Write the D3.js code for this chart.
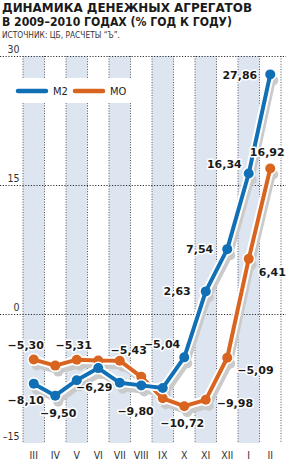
<!DOCTYPE html>
<html>
<head>
<meta charset="utf-8">
<script src="https://cdn.jsdelivr.net/npm/d3@7"></script>
<style>
html,body{margin:0;padding:0;background:#fff;}
svg{display:block;}
</style>
</head>
<body>
<svg id="chart" width="286" height="463"></svg>
<script>
// ---- data ----
const months = ["III","IV","V","VI","VII","VIII","IX","X","XI","XII","I","II"];
const m2Values = [-8.10, -9.50, -7.70, -6.29, -8.00, -8.30, -8.60, -5.04, 2.63, 7.54, 16.34, 27.86];
const m0Values = [-5.30, -6.00, -5.31, -5.40, -5.43, -7.30, -9.80, -10.72, -9.98, -5.09, 6.41, 16.92];
const yTicks = [30, 15, 0, -15];
const gridTicks = [30, 15, 0];
const shadedMonths = ["III","V","VII","IX","XI","I"];
const seriesNames = ["M2", "МО"];
const titleLines = ["ДИНАМИКА ДЕНЕЖНЫХ АГРЕГАТОВ", "В 2009–2010 ГОДАХ (% ГОД К ГОДУ)"];
const sourceText = "ИСТОЧНИК: ЦБ, РАСЧЕТЫ “Ъ”.";

// label placement (layout only): [monthIndex, anchor, dx, dy]
const m2LabelLayout = [[0,"middle",-8,20],[1,"middle",3,21],[3,"middle",-4,23],[7,"end",-4,-9],[8,"end",-15,4],[9,"end",-14,4],[10,"end",-7,-5],[11,"end",-13,5]];
const m0LabelLayout = [[0,"middle",-8,-11],[2,"middle",-3,-11],[4,"middle",9,-7],[6,"end",-9,17],[7,"middle",-2,21],[8,"start",11,7],[9,"start",10,16],[10,"start",10,17],[11,"middle",-3,-12]];

const svg = d3.select("#chart");
const narrow = "'Liberation Sans Narrow','DejaVu Sans Condensed','Roboto Condensed',sans-serif";
const bold = "'DejaVu Sans',sans-serif";

const x = d3.scaleBand().domain(months).range([23, 281]).padding(0);
const y = d3.scaleLinear().domain([-15, 30]).range([443, 56]);
const cx = m => x(m) + x.bandwidth()/2;
const fmt = v => d3.format(".2f")(v).replace(".", ",").replace("-", "−");

// title
svg.selectAll("text.title").data(titleLines).join("text")
  .attr("x", 2).attr("y", (d,i) => 12 + i*13.5)
  .attr("font-family", bold).attr("font-weight", "bold").attr("font-size", 12)
  .attr("fill", "#1a1a1a")
  .attr("textLength", (d,i) => i === 0 ? 250 : 230).attr("lengthAdjust", "spacingAndGlyphs")
  .text(d => d);
svg.append("text").attr("x", 2).attr("y", 37.5)
  .attr("font-family", narrow).attr("font-size", 8.5).attr("fill", "#333")
  .attr("textLength", 118).attr("lengthAdjust", "spacingAndGlyphs")
  .text(sourceText);

// bands
svg.selectAll("rect.band").data(shadedMonths).join("rect")
  .attr("x", d => x(d)).attr("width", x.bandwidth())
  .attr("y", y(30)).attr("height", y(-15) - y(30))
  .attr("fill", "#dde5f1");

// vertical dotted lines at column boundaries
const bounds = months.map(m => x(m)).concat([x(months[months.length-1]) + x.bandwidth()]);
svg.selectAll("line.v").data(bounds).join("line")
  .attr("x1", d => d).attr("x2", d => d)
  .attr("y1", y(30)).attr("y2", y(-15))
  .attr("stroke", "#555").attr("stroke-width", 1).attr("stroke-dasharray", "1,1.6");

// legend backdrop
svg.append("rect").attr("x", 14).attr("y", 78).attr("width", 122).attr("height", 25).attr("fill", "#fff");

// horizontal grid
svg.selectAll("line.h").data(gridTicks).join("line")
  .attr("x1", 0).attr("x2", 286)
  .attr("y1", d => Math.round(y(d)) + 0.5).attr("y2", d => Math.round(y(d)) + 0.5)
  .attr("stroke", "#333").attr("stroke-width", 1).attr("stroke-dasharray", "1.2,1.6");

// y tick labels
svg.selectAll("text.yt").data(yTicks).join("text")
  .attr("x", 19.5).attr("y", d => y(d) - 3)
  .attr("text-anchor", "end")
  .attr("font-family", narrow).attr("font-size", 10.5).attr("fill", "#333")
  .text(d => d < 0 ? "–" + Math.abs(d) : d);

// month labels
svg.selectAll("text.mt").data(months).join("text")
  .attr("x", d => cx(d)).attr("y", 459)
  .attr("text-anchor", "middle")
  .attr("font-family", narrow).attr("font-size", 10.5).attr("fill", "#333")
  .text(d => d);

// legend
const colors = ["#1170b5", "#d8641f"];
const legendX = [18, 75];
seriesNames.forEach((name, i) => {
  svg.append("line").attr("x1", legendX[i]).attr("x2", legendX[i] + 28)
    .attr("y1", 91).attr("y2", 91)
    .attr("stroke", colors[i]).attr("stroke-width", 4.5).attr("stroke-linecap", "round");
  svg.append("text").attr("x", legendX[i] + 35).attr("y", 95)
    .attr("font-family", narrow).attr("font-size", 11).attr("fill", "#222")
    .text(name);
});

// lines
const line = d3.line().x((d,i) => cx(months[i])).y(d => y(d));
const series = [m0Values, m2Values];
const seriesColors = [colors[1], colors[0]];
// shadows
series.forEach(vals => {
  const g = svg.append("g").attr("transform", "translate(3,6)");
  g.append("path").attr("d", line(vals)).attr("fill", "none")
    .attr("stroke", "#cacaca").attr("stroke-width", 5).attr("stroke-linejoin", "round");
  g.selectAll("circle").data(vals).join("circle")
    .attr("cx", (d,i) => cx(months[i])).attr("cy", d => y(d)).attr("r", 5).attr("fill", "#cacaca");
});
series.forEach((vals, s) => {
  svg.append("path").attr("d", line(vals)).attr("fill", "none")
    .attr("stroke", "#fff").attr("stroke-width", 8).attr("stroke-linejoin", "round");
  svg.append("g").selectAll("circle").data(vals).join("circle")
    .attr("cx", (d,i) => cx(months[i])).attr("cy", d => y(d)).attr("r", 6.5).attr("fill", "#fff");
  svg.append("path").attr("d", line(vals)).attr("fill", "none")
    .attr("stroke", seriesColors[s]).attr("stroke-width", 4).attr("stroke-linejoin", "round");
  svg.append("g").selectAll("circle").data(vals).join("circle")
    .attr("cx", (d,i) => cx(months[i])).attr("cy", d => y(d)).attr("r", 5).attr("fill", seriesColors[s]);
});

// value labels
function labels(vals, layout) {
  svg.append("g").selectAll("text").data(layout).join("text")
    .attr("x", d => cx(months[d[0]]) + d[2])
    .attr("y", d => y(vals[d[0]]) + d[3])
    .attr("text-anchor", d => d[1])
    .attr("font-family", bold).attr("font-weight", "bold").attr("font-size", 11)
    .attr("fill", "#1a1a1a")
    .attr("stroke", "#fff").attr("stroke-width", 3).attr("paint-order", "stroke").attr("stroke-linejoin", "round")
    .text(d => fmt(vals[d[0]]));
}
labels(m2Values, m2LabelLayout);
labels(m0Values, m0LabelLayout);
</script>
</body>
</html>
